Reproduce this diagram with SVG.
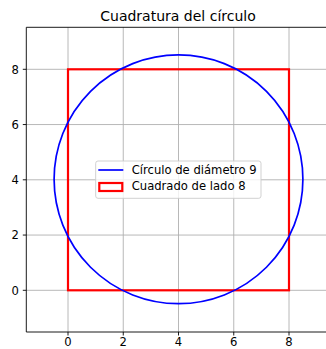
<svg xmlns="http://www.w3.org/2000/svg" width="326" height="349" viewBox="0 0 326 349">
<style>
text{font-family:"DejaVu Sans","Liberation Sans",sans-serif;fill:#000}
.tick{font-size:11.6px}
.grid line{stroke:#b0b0b0;stroke-width:0.9}
.spine{stroke:#000;stroke-width:0.9;fill:none}
.tk line{stroke:#000;stroke-width:0.9}
</style>
<rect width="326" height="349" fill="#fff"/>
<g id="grid" class="grid">
<line x1="68" y1="27.3" x2="68" y2="332"/>
<line x1="123.25" y1="27.3" x2="123.25" y2="332"/>
<line x1="178.5" y1="27.3" x2="178.5" y2="332"/>
<line x1="233.75" y1="27.3" x2="233.75" y2="332"/>
<line x1="289" y1="27.3" x2="289" y2="332"/>
<line x1="26.3" y1="290.3" x2="326" y2="290.3"/>
<line x1="26.3" y1="235.05" x2="326" y2="235.05"/>
<line x1="26.3" y1="179.8" x2="326" y2="179.8"/>
<line x1="26.3" y1="124.55" x2="326" y2="124.55"/>
<line x1="26.3" y1="69.3" x2="326" y2="69.3"/>
</g>
<g id="square">
<rect x="68" y="69.3" width="221" height="221" fill="none" stroke="#ff0000" stroke-width="2.2"/>
</g>
<g id="circle">
<circle cx="178.5" cy="179.3" r="124.4" fill="none" stroke="#0000ff" stroke-width="1.7"/>
</g>
<g id="axes">
<path class="spine" d="M26.3,27.3 H330 M26.3,27.3 V332 M26.3,332 H330"/>
<g class="tk">
<line x1="68" y1="332" x2="68" y2="335.5"/>
<line x1="123.25" y1="332" x2="123.25" y2="335.5"/>
<line x1="178.5" y1="332" x2="178.5" y2="335.5"/>
<line x1="233.75" y1="332" x2="233.75" y2="335.5"/>
<line x1="289" y1="332" x2="289" y2="335.5"/>
<line x1="22.8" y1="290.3" x2="26.3" y2="290.3"/>
<line x1="22.8" y1="235.05" x2="26.3" y2="235.05"/>
<line x1="22.8" y1="179.8" x2="26.3" y2="179.8"/>
<line x1="22.8" y1="124.55" x2="26.3" y2="124.55"/>
<line x1="22.8" y1="69.3" x2="26.3" y2="69.3"/>
</g>
<g class="tick" text-anchor="middle">
<text x="68" y="346">0</text>
<text x="123.25" y="346">2</text>
<text x="178.5" y="346">4</text>
<text x="233.75" y="346">6</text>
<text x="289" y="346">8</text>
</g>
<g class="tick" text-anchor="end">
<text x="19" y="294.5">0</text>
<text x="19" y="239.2">2</text>
<text x="19" y="184">4</text>
<text x="19" y="128.7">6</text>
<text x="19" y="73.5">8</text>
</g>
</g>
<g id="title">
<text x="178" y="20.7" font-size="14" text-anchor="middle">Cuadratura del círculo</text>
</g>
<g id="legend">
<rect x="95.7" y="161" width="165.3" height="37.3" rx="2.3" fill="#fff" fill-opacity="0.8" stroke="#cccccc" stroke-width="0.9"/>
<line x1="98.3" y1="170" x2="123.3" y2="170" stroke="#0000ff" stroke-width="1.7"/>
<rect x="99.3" y="183" width="23" height="8" fill="none" stroke="#ff0000" stroke-width="2.2"/>
<text class="tick" x="131.7" y="173.8">Círculo de diámetro 9</text>
<text class="tick" x="131.7" y="190">Cuadrado de lado 8</text>
</g>
</svg>
